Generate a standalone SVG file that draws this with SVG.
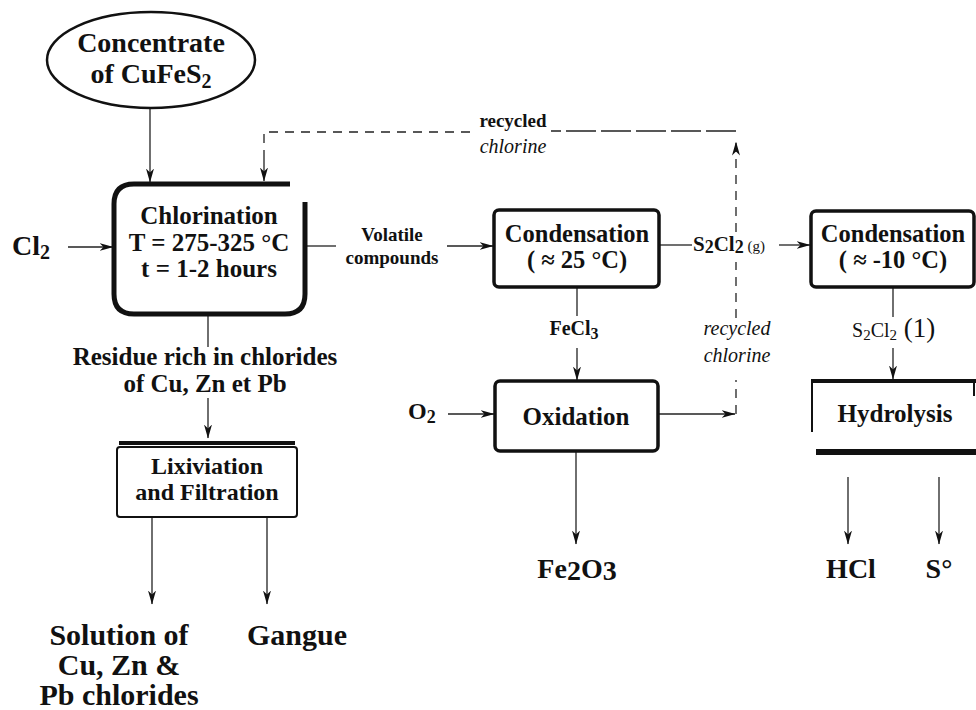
<svg xmlns="http://www.w3.org/2000/svg" width="976" height="710" viewBox="0 0 976 710">
<defs>
<marker id="ah" viewBox="0 0 14 8" refX="13.5" refY="4" markerWidth="14" markerHeight="8" markerUnits="userSpaceOnUse" orient="auto">
<path d="M0,0 L14,4 L0,8 L4,4 Z" fill="#111"/>
</marker>
<style>
text { font-family: "Liberation Serif","Times New Roman",serif; fill:#111; }
.b { font-weight: bold; }
.it { font-style: italic; }
.c { text-anchor: middle; }
.ln { stroke:#222; stroke-width:1.3; fill:none; }
.dash { stroke:#222; stroke-width:1.3; fill:none; stroke-dasharray:9 7; }
.box { fill:none; stroke:#111; stroke-width:3.5; }
.f25 { font-size:25px; }
.f24 { font-size:24.5px; }
.f20 { font-size:20px; }
</style>
</defs>
<rect width="976" height="710" fill="#fff"/>

<g id="connectors">
  <line class="ln" x1="150" y1="108" x2="150" y2="182" marker-end="url(#ah)"/>
  <line class="ln" x1="68" y1="247" x2="113" y2="247" marker-end="url(#ah)"/>
  <line class="ln" x1="305" y1="246" x2="336" y2="246"/>
  <line class="ln" x1="447" y1="246" x2="493" y2="246" marker-end="url(#ah)"/>
  <line class="ln" x1="660" y1="245" x2="692" y2="245"/>
  <line class="ln" x1="779" y1="245" x2="810" y2="245" marker-end="url(#ah)"/>
  <line class="ln" x1="577" y1="287" x2="577" y2="316"/>
  <line class="ln" x1="577" y1="348" x2="577" y2="380" marker-end="url(#ah)"/>
  <line class="ln" x1="448" y1="414" x2="494" y2="414" marker-end="url(#ah)"/>
  <line class="ln" x1="658" y1="414" x2="735" y2="414" marker-end="url(#ah)"/>
  <line class="ln" x1="576" y1="451" x2="576" y2="544" marker-end="url(#ah)"/>
  <line class="ln" x1="893" y1="287" x2="893" y2="317" stroke-width="2"/>
  <line class="ln" x1="893" y1="348" x2="893" y2="379" marker-end="url(#ah)"/>
  <line class="ln" x1="848" y1="477" x2="848" y2="544" marker-end="url(#ah)"/>
  <line class="ln" x1="939" y1="477" x2="939" y2="544" marker-end="url(#ah)"/>
  <line class="ln" x1="208" y1="314" x2="208" y2="347"/>
  <line class="ln" x1="208" y1="398" x2="208" y2="438" marker-end="url(#ah)"/>
  <line class="ln" x1="152" y1="517" x2="152" y2="604" marker-end="url(#ah)"/>
  <line class="ln" x1="267" y1="517" x2="267" y2="604" marker-end="url(#ah)"/>
  <!-- recycled chlorine loop -->
  <line class="dash" x1="736" y1="414" x2="736" y2="380"/>
  <line class="dash" x1="736" y1="318" x2="736" y2="262"/>
  <line class="dash" x1="736" y1="232" x2="736" y2="142" marker-end="url(#ah)"/>
  <line class="ln" x1="736" y1="131" x2="551" y2="131" stroke-dasharray="30 5"/>
  <path class="dash" d="M470,132 H264 V150"/>
  <line class="ln" x1="264" y1="150" x2="264" y2="181" marker-end="url(#ah)"/>
</g>

<g id="concentrate">
  <ellipse cx="151" cy="60" rx="104" ry="48" fill="none" stroke="#111" stroke-width="2.5"/>
  <text class="b c" x="151" y="52" font-size="28">Concentrate</text>
  <text class="b c" x="151" y="83" font-size="28">of CuFeS<tspan font-size="20" dy="5">2</tspan></text>
</g>

<g id="cl2">
  <text class="b" x="12" y="255" font-size="28">Cl<tspan font-size="20" dy="4">2</tspan></text>
</g>

<g id="chlorination">
  <path d="M290,184 H134 Q114,184 114,204 V294 Q114,314 134,314 H285 Q305,314 305,294 V202" fill="none" stroke="#111" stroke-width="5"/>
  <text class="b c f25" x="209" y="224">Chlorination</text>
  <text class="b c f25" x="209" y="251">T = 275-325 °C</text>
  <text class="b c f25" x="209" y="277">t = 1-2 hours</text>
</g>

<g id="volatile">
  <text class="b c" x="392" y="241" font-size="19">Volatile</text>
  <text class="b c" x="392" y="264" font-size="19">compounds</text>
</g>

<g id="condensation25">
  <rect class="box" x="494" y="210" width="165" height="77" rx="5"/>
  <text class="b c f24" x="577" y="242">Condensation</text>
  <text class="b c f24" x="577" y="268">( ≈ 25 °C)</text>
</g>

<g id="s2cl2g">
  <text class="b" x="693" y="251" font-size="21">S<tspan font-size="18" dy="2">2</tspan><tspan dy="-2">Cl</tspan><tspan font-size="18" dy="2">2</tspan><tspan font-size="15" font-weight="normal" dy="-2"> (g)</tspan></text>
</g>

<g id="condensation10">
  <rect class="box" x="811" y="211" width="163" height="76" rx="5"/>
  <text class="b c f24" x="893" y="242">Condensation</text>
  <text class="b c f24" x="893" y="268">( ≈ -10 °C)</text>
</g>

<g id="fecl3">
  <text class="b c f20" x="574" y="335">FeCl<tspan font-size="16" dy="4">3</tspan></text>
</g>

<g id="recycled2">
  <text class="it c f20" x="737" y="335">recycled</text>
  <text class="it c f20" x="737" y="362">chlorine</text>
</g>

<g id="recycled1">
  <text class="b c" x="513" y="127" font-size="19">recycled</text>
  <text class="it c f20" x="513" y="153">chlorine</text>
</g>

<g id="o2">
  <text class="b" x="408" y="419" font-size="24">O<tspan font-size="18" dy="4">2</tspan></text>
</g>

<g id="oxidation">
  <rect class="box" x="495" y="381" width="163" height="70" rx="5"/>
  <text class="b c f25" x="576" y="425">Oxidation</text>
</g>

<g id="s2cl2l">
  <text x="852" y="337" font-size="20">S<tspan font-size="15" dy="3">2</tspan><tspan dy="-3">Cl</tspan><tspan font-size="15" dy="3">2</tspan><tspan font-size="27" dy="-3"> (1)</tspan></text>
</g>

<g id="hydrolysis">
  <line x1="811" y1="381" x2="976" y2="381" stroke="#111" stroke-width="4"/>
  <line x1="812" y1="381" x2="812" y2="432" stroke="#111" stroke-width="2"/>
  <line x1="974" y1="381" x2="974" y2="396" stroke="#111" stroke-width="2"/>
  <line x1="816" y1="452" x2="976" y2="452" stroke="#111" stroke-width="6"/>
  <text class="b c f25" x="895" y="422">Hydrolysis</text>
</g>

<g id="fe2o3">
  <text class="b c" x="577" y="578" font-size="28">Fe<tspan dy="2">2</tspan><tspan dy="-2">O</tspan><tspan dy="2">3</tspan></text>
</g>
<g id="hcl">
  <text class="b c" x="851" y="578" font-size="28">HCl</text>
</g>
<g id="sulfur">
  <text class="b c" x="939" y="578" font-size="28">S°</text>
</g>

<g id="residue">
  <text class="b c f25" x="205" y="365">Residue rich in chlorides</text>
  <text class="b c f25" x="205" y="392">of Cu, Zn et Pb</text>
</g>

<g id="lixiviation">
  <line x1="119" y1="443" x2="295" y2="443" stroke="#111" stroke-width="4"/>
  <rect x="117" y="447" width="180" height="70" rx="3" fill="none" stroke="#111" stroke-width="2"/>
  <text class="b c" x="207" y="474" font-size="24">Lixiviation</text>
  <text class="b c" x="207" y="500" font-size="24">and Filtration</text>
</g>

<g id="solution">
  <text class="b c" x="119" y="645" font-size="30">Solution of</text>
  <text class="b c" x="119" y="675" font-size="30">Cu, Zn &amp;</text>
  <text class="b c" x="119" y="705" font-size="30">Pb chlorides</text>
</g>
<g id="gangue">
  <text class="b" x="247" y="645" font-size="30">Gangue</text>
</g>
</svg>
